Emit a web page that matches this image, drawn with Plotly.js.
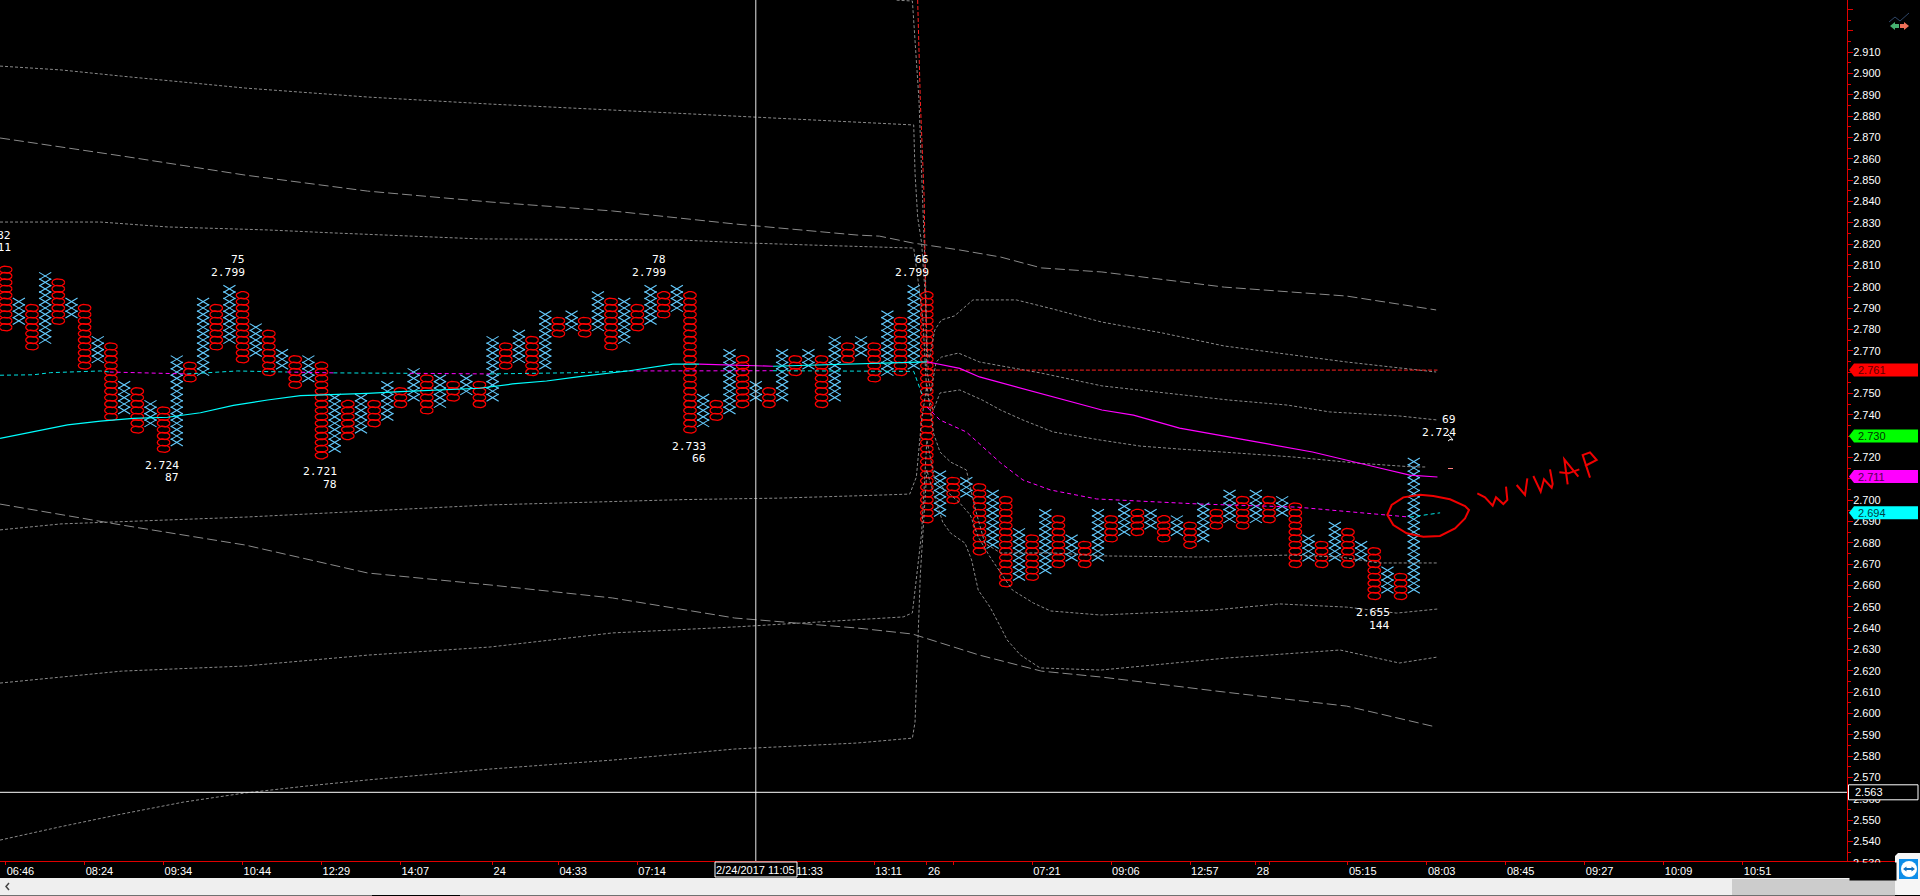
<!DOCTYPE html>
<html><head><meta charset="utf-8">
<script src="https://cdn.plot.ly/plotly-3.0.1.min.js"></script>
<style>html,body{margin:0;padding:0;background:#000;overflow:hidden}#c{width:1920px;height:896px}</style>
</head><body><div id="c"></div>
<script>
// Point & figure columns (box size 0.003), starting at column 0
const colKind = "OXOXOXOXOXOXOXOXOXOXOXOXOXOXOXOXOXOXOXOXOXOXOXOXOXOXOXOXOXOXOXOXOXOXOXOXOXOXOXOXOXOXOXOXOXOXOXOXOXOXOXOXOXOX".split("");
const colHigh = [2.808,2.793,2.790,2.805,2.802,2.793,2.790,2.775,2.772,2.754,2.751,2.745,2.742,2.766,2.763,2.793,2.790,2.799,2.796,2.781,2.778,2.769,2.766,2.766,2.763,2.748,2.745,2.748,2.745,2.754,2.751,2.760,2.757,2.757,2.754,2.757,2.754,2.775,2.772,2.778,2.775,2.787,2.784,2.787,2.784,2.796,2.793,2.793,2.790,2.799,2.796,2.799,2.796,2.748,2.745,2.769,2.766,2.754,2.751,2.769,2.766,2.769,2.766,2.775,2.772,2.775,2.772,2.787,2.784,2.799,2.796,2.712,2.709,2.709,2.706,2.703,2.700,2.685,2.682,2.694,2.691,2.682,2.679,2.694,2.691,2.697,2.694,2.694,2.691,2.691,2.688,2.697,2.694,2.703,2.700,2.703,2.700,2.700,2.697,2.682,2.679,2.688,2.685,2.679,2.676,2.667,2.664,2.718,2.715,2.727];
const colLow  = [2.781,2.784,2.772,2.775,2.784,2.787,2.763,2.766,2.739,2.742,2.733,2.736,2.724,2.727,2.757,2.760,2.772,2.775,2.766,2.769,2.760,2.763,2.754,2.757,2.721,2.724,2.730,2.733,2.736,2.739,2.745,2.748,2.742,2.745,2.748,2.751,2.745,2.748,2.763,2.766,2.760,2.763,2.778,2.781,2.778,2.781,2.772,2.775,2.781,2.784,2.787,2.790,2.733,2.736,2.739,2.742,2.745,2.748,2.745,2.748,2.760,2.763,2.745,2.748,2.766,2.769,2.757,2.760,2.760,2.763,2.691,2.694,2.700,2.703,2.676,2.679,2.661,2.664,2.664,2.667,2.670,2.673,2.670,2.673,2.682,2.685,2.685,2.688,2.682,2.685,2.679,2.682,2.688,2.691,2.688,2.691,2.691,2.694,2.670,2.673,2.670,2.673,2.670,2.673,2.655,2.658,2.655,2.658,2.703,2.706];

// Standard-deviation bands
const upper3Col = [67.7,68.9,69.4,69.7,69.9,70,70.2,70.6,71.1,72.1,73.5,76.8,79.6,83.3,87.9,92.6,101.9,108.7];
const upper3Val = [2.9343,2.9339,2.8875,2.8406,2.8031,2.7703,2.7666,2.7797,2.7844,2.7863,2.7938,2.7938,2.7895,2.7834,2.7783,2.7722,2.7647,2.7600];
const upper2Col = [-0.43,4.2,8.8,13.5,18.2,27.5,36.8,46.1,55.4,68,69,69.1,69.3,69.6,69.9,70,70.3,70.7,71.1,72.4,74,78.7,83.3,92.9,97.4,100.6,105.9,108.8];
const upper2Val = [2.9034,2.9016,2.8987,2.8959,2.8931,2.8889,2.8856,2.8828,2.8800,2.8763,2.8758,2.8533,2.8327,2.8205,2.7938,2.7609,2.7506,2.7647,2.7670,2.7689,2.7647,2.7595,2.7535,2.7469,2.7445,2.7413,2.7394,2.7375];
const upper1Col = [-0.43,7.2,12.3,19.9,24.9,36,51.2,56.3,61.3,69,69.3,69.7,70,70.5,71,72.5,74.2,75.6,77.3,79.6,83.2,86.2,89.2,92.5,97.8,102.7,107,108];
const upper1Val = [2.8303,2.8303,2.8280,2.8266,2.8252,2.8224,2.8219,2.8205,2.8195,2.8181,2.8045,2.7844,2.7492,2.7422,2.7502,2.7516,2.7469,2.7422,2.7375,2.7319,2.7281,2.7253,2.7239,2.7225,2.7202,2.7173,2.7155,2.7155];
const lower1Col = [-0.43,4.2,18.2,36.8,51.5,58.8,66.4,68.7,69.2,69.6,70,70.5,71,71.8,73,73.7,74.4,75.6,79.6,83.2,90.8,97.6,101.4,104.4,108.8];
const lower1Val = [2.6860,2.6888,2.6920,2.6977,2.7002,2.7009,2.7023,2.7028,2.7108,2.7375,2.7539,2.7314,2.7225,2.7178,2.7141,2.6953,2.6798,2.6752,2.6752,2.6738,2.6733,2.6742,2.6733,2.6705,2.6705];
const lower2Col = [-0.43,8.8,18.2,27.5,36.8,46.1,55.4,64.7,68.2,68.9,69.2,69.6,70,70.6,71.4,72.5,73.3,73.9,74.8,76.5,78.1,79.4,83.2,88.2,91.7,96.8,101.9,105.7,108.8];
const lower2Val = [2.6142,2.6198,2.6222,2.6273,2.6311,2.6377,2.6405,2.6438,2.6452,2.6471,2.6625,2.6845,2.7281,2.7094,2.7047,2.6986,2.6930,2.6827,2.6733,2.6578,2.6517,2.6480,2.6461,2.6475,2.6484,2.6513,2.6498,2.6470,2.6489];
const lower3Col = [-0.43,4.2,8.8,13.5,18.2,22.8,27.5,36.8,46.1,55.4,64.7,68.9,69.1,69.5,70,70.2,71.2,71.8,72.9,73.4,73.9,74.8,75.6,76.1,77.1,78.6,83.2,92.7,101.4,105.9,108.8];
const lower3Val = [2.5406,2.5469,2.5528,2.5584,2.5627,2.5659,2.5688,2.5739,2.5781,2.5833,2.5861,2.5884,2.5959,2.6648,2.7141,2.7094,2.6897,2.6845,2.6798,2.6719,2.6578,2.6498,2.6405,2.6344,2.6274,2.6213,2.6203,2.6259,2.6297,2.6236,2.6264];

// Long-dash weekly bands
const weekUpCol = [-0.43,4.2,8.8,18.2,27.5,36.8,46.1,55.4,64.7,66.4,68.9,72.5,75.6,78.7,83.3,92.6,101.9,108.7];
const weekUpVal = [2.8697,2.8655,2.8613,2.8523,2.8448,2.8397,2.8355,2.8294,2.8242,2.8237,2.8205,2.8172,2.8139,2.8088,2.8069,2.7998,2.7956,2.7891];
const weekDnCol = [-0.43,8.8,18.2,27.5,36.8,46.1,55.4,64.7,68.9,74,78.7,83.3,92.6,101.9,108.7];
const weekDnVal = [2.6981,2.6883,2.6789,2.6658,2.6602,2.6541,2.6447,2.6400,2.6372,2.6273,2.6198,2.6170,2.6100,2.6034,2.5936];

// Dashed average, cyan and magenta stretches
const dashCyanCol = [-0.43,2.1,3.4,7.2,7.9,null,13.8,17.6,21.4,null,24.9,30.7,null,36.8,43.6,47.4,null,58.3,69,69.7,null,106.7,109];
const dashCyanVal = [2.7585,2.7587,2.7597,2.7605,2.7600,null,2.7591,2.7605,2.7600,null,2.7596,2.7594,null,2.7591,2.7597,2.7605,null,2.7606,2.7603,2.7483,null,2.6920,2.6940];
const dashMagCol = [7.9,13.8,null,21.4,24.9,null,30.7,36.8,null,47.4,58.3,null,70,70.8,71,73,75.6,77.3,79.4,82.9,90.8,98.1,106.7];
const dashMagVal = [2.7600,2.7591,null,2.7600,2.7596,null,2.7594,2.7591,null,2.7605,2.7606,null,2.7436,2.7384,2.7375,2.7319,2.7174,2.7094,2.7047,2.7005,2.6981,2.6967,2.6920];

// Solid VWAP, cyan and magenta stretches
const vwapCyanCol = [-0.43,2.1,4.7,7.2,9.7,12.3,14.8,17.3,19.9,22.4,24.9,27.5,30,32.5,36,38.5,41.1,43.6,47.4,50.7,52.7,null,58.3,69,70];
const vwapCyanVal = [2.7289,2.7320,2.7352,2.7370,2.7383,2.7388,2.7409,2.7444,2.7469,2.7489,2.7494,2.7500,2.7508,2.7516,2.7524,2.7544,2.7558,2.7578,2.7606,2.7637,2.7637,null,2.7627,2.7647,2.7648];
const vwapMagCol = [52.7,58.3,null,70,72.5,74,78.7,83.3,85.7,89.2,94.3,99.3,104.4,106.7,108.8];
const vwapMagVal = [2.7637,2.7627,null,2.7648,2.7617,2.7577,2.7497,2.7422,2.7398,2.7337,2.7281,2.7225,2.7150,2.7117,2.7108];

// Red dashed line
const redCol = [69.3,69.5,69.8,69.9,70.1,108.8];
const redVal = [2.9344,2.8875,2.8406,2.7938,2.7609,2.7609];

// Swing labels (the first belongs to a column just left of the window)
const swingCol   = [-1,17,12,24,49,52,69,104,109];
const swingPrice = ["2.811","2.799","2.724","2.721","2.799","2.733","2.799","2.655","2.724"];
const swingCount = ["82","75","87","78","78","66","66","144","69"];
const swingIsTop = [true,true,false,false,true,false,true,false,true];

// Axes
const xTickVals = [0,6,12,18,24,30,37,42,48,54,60,66,70,72,78,84,90,95,96,102,108,114,120,126,132];
const xTickText = ["06:46","08:24","09:34","10:44","12:29","14:07","24","04:33","07:14","","11:33","13:11","26","","07:21","09:06","12:57","28","","05:15","08:03","08:45","09:27","10:09","10:51"];
const yMajor = [2.54,2.55,2.56,2.57,2.58,2.59,2.60,2.61,2.62,2.63,2.64,2.65,2.66,2.67,2.68,2.69,2.70,2.71,2.72,2.73,2.74,2.75,2.76,2.77,2.78,2.79,2.80,2.81,2.82,2.83,2.84,2.85,2.86,2.87,2.88,2.89,2.90,2.91,2.92,2.93];
const yBadgeHidden = [2.71,2.73,2.76];
const yLabels = yMajor.map(v => (v > 2.915 || yBadgeHidden.includes(v)) ? "" : v.toFixed(3));
const yMinor = yMajor.map(v => v - 0.005).concat([2.535]).filter(v => v > 2.531);

// Price badges
const badgeVal   = [2.761,2.730,2.711,2.694];
const badgeFill  = ["#ff0000","#00ff00","#ff00ff","#00ffff"];
const badgeInk   = ["#5a0000","#003000","#500050","#004040"];
const crossCol = 57, crossPrice = 2.563, crossDate = "2/24/2017 11:05";

// --- glyphs
const PW = 1847, PH = 861;
const fx = x => x / PW, fy = y => 1 - y / PH;
const boxH = 0.0017;
const xsX = [], xsY = [], osX = [], osY = [];
colKind.forEach((k, i) => {
  const n = Math.round((colHigh[i] - colLow[i]) / 0.003);
  for (let j = 0; j <= n; j++) {
    const v = colLow[i] + j * 0.003;
    if (k === "X") {
      xsX.push(i - 0.46, i + 0.46, null, i - 0.46, i + 0.46, null);
      xsY.push(v - boxH, v + boxH, null, v + boxH, v - boxH, null);
    } else {
      for (let a = 0; a <= 14; a++) {
        const t = a / 14 * 2 * Math.PI;
        osX.push(i + 0.48 * Math.cos(t));
        osY.push(v + boxH * Math.sin(t));
      }
      osX.push(null); osY.push(null);
    }
  }
});
const ln = (x, y, color, dash, width) => ({type: "scatter", mode: "lines", x, y, hoverinfo: "skip", connectgaps: false,
  line: {color, dash: dash || "solid", width: width || 1, shape: "linear"}});
const G = "#8a8a8a", DOT = "3px,2px", LONG = "10px,4px";
const traces = [
  ln(osX, osY, "#ff0000", null, 1.25),
  ln(xsX, xsY, "#66ccff", null, 1.1),
  ln(upper3Col, upper3Val, G, DOT), ln(upper2Col, upper2Val, G, DOT), ln(upper1Col, upper1Val, G, DOT),
  ln(lower1Col, lower1Val, G, DOT), ln(lower2Col, lower2Val, G, DOT), ln(lower3Col, lower3Val, G, DOT),
  ln(weekUpCol, weekUpVal, G, LONG), ln(weekDnCol, weekDnVal, G, LONG),
  ln(dashCyanCol, dashCyanVal, "#00e5e5", "4px,3px"), ln(dashMagCol, dashMagVal, "#ff00ff", "4px,3px"),
  ln(redCol, redVal, "#ff2020", "4px,2px"),
  ln(vwapCyanCol, vwapCyanVal, "#00ffff", null, 1.2), ln(vwapMagCol, vwapMagVal, "#ff00ff", null, 1.2)
];

// --- annotations
const mono = {family: "'DejaVu Sans Mono',monospace", size: 11.3, color: "#ffffff"};
const sans = {family: "'Liberation Sans',Arial,sans-serif", size: 11, color: "#ffffff"};
const anns = [];
swingCol.forEach((c, i) => {
  const v = parseFloat(swingPrice[i]), s = swingIsTop[i] ? 1 : -1;
  const base = c < 0
    ? {xref: "paper", x: 0, xshift: 13, yref: "y", y: v, xanchor: "right", yanchor: "middle", showarrow: false, font: mono}
    : {xref: "x", x: c, xshift: 17.5, yref: "y", y: v, xanchor: "right", yanchor: "middle", showarrow: false, font: mono};
  const lift = c < 0 ? -1 : 0;
  anns.push({...base, text: swingPrice[i], yshift: s * 16.7 + lift});
  anns.push({...base, text: swingCount[i], yshift: s * 29 + lift});
});
// half-hidden bottom tick label
anns.push({xref: "paper", yref: "paper", x: 1, xshift: 4, y: fy(863), xanchor: "left", yanchor: "middle", showarrow: false, text: "2.530", font: sans});
anns.push({xref: "paper", yref: "paper", x: 1, y: fy(862), xanchor: "left", yanchor: "top", xshift: 2, showarrow: false, text: " ", width: 44, height: 15, bgcolor: "#000000", font: sans});
badgeVal.forEach((v, i) => anns.push({xref: "paper", yref: "y", x: 1, y: v, xshift: 9, xanchor: "left", yanchor: "middle", showarrow: false, text: v.toFixed(3), font: {...sans, color: badgeInk[i]}}));
anns.push({xref: "paper", yref: "y", x: 1, y: crossPrice, xshift: 6, xanchor: "left", yanchor: "middle", showarrow: false, text: crossPrice.toFixed(3), font: sans});
anns.push({xref: "x", yref: "paper", x: crossCol, y: fy(870), xanchor: "center", yanchor: "middle", showarrow: false, text: crossDate, font: sans});

// --- shapes
const poly = (pts, color, width, fill, close) => ({type: "path", xref: "paper", yref: "paper", layer: "above",
  path: "M " + pts.map(p => fx(p[0]) + " " + fy(p[1])).join(" L ") + (close ? " Z" : ""),
  line: {color: color || "rgba(0,0,0,0)", width: width === undefined ? 1 : width}, fillcolor: fill || "rgba(0,0,0,0)"});
const rect = (x0, y0, x1, y1, fill, line) => ({type: "rect", xref: "paper", yref: "paper", layer: "above",
  x0: fx(x0), x1: fx(x1), y0: fy(y0), y1: fy(y1), fillcolor: fill, line: {color: line || fill, width: line ? 1 : 0}});
const shapes = [];
// crosshair
shapes.push({type: "line", xref: "x", yref: "paper", x0: crossCol, x1: crossCol, y0: 0, y1: 1, line: {color: "#e8e8e8", width: 1}, layer: "above"});
shapes.push({type: "line", xref: "paper", yref: "y", x0: 0, x1: 1, y0: crossPrice, y1: crossPrice, line: {color: "#ffffff", width: 1}, layer: "above"});
// badges
badgeVal.forEach((v, i) => shapes.push({type: "path", layer: "above", xref: "paper", yref: "y", xsizemode: "pixel", ysizemode: "pixel", xanchor: 1, yanchor: v,
  path: "M 2 0 L 7 6.5 L 71 6.5 L 71 -6.5 L 7 -6.5 Z", fillcolor: badgeFill[i], line: {width: 0}}));
shapes.push({type: "path", layer: "above", xref: "paper", yref: "y", xsizemode: "pixel", ysizemode: "pixel", xanchor: 1, yanchor: crossPrice,
  path: "M 1.5 7.5 L 71 7.5 L 71 -7.5 L 1.5 -7.5 Z", fillcolor: "#000000", line: {color: "#ffffff", width: 1}});
shapes.push(rect(715, 862, 797, 877, "#000000", "#ffffff"));
// axis extension, scrollbar and window furniture
shapes.push(rect(1847, 861, 1895, 862, "#e00000"));
shapes.push(rect(0, 878, 1920, 895, "#efefef"));
shapes.push(rect(1732, 879, 1895, 895, "#cccccc"));
shapes.push(rect(0, 895, 372, 896, "#707070"));
shapes.push(rect(460, 895, 1895, 896, "#707070"));
shapes.push(poly([[9, 883], [6, 886.5], [9, 890]], "#444444", 1.5));
// hand drawn circle and caption
const ovalPts = [[180,284],[130,292],[95,315],[82,345],[100,375],[140,400],[190,410],[240,408],[285,385],[315,355],[327,330],[315,318],[270,298],[220,288],[180,284]];
const inkPts = [
  [[22,160],[45,172],[68,197],[78,172],[100,192],[112,180],[108,140]],
  [[140,135],[165,165],[172,115]],
  [[190,108],[212,155],[222,118],[245,143],[248,132],[240,88]],
  [[293,133],[283,58],[325,110]],
  [[268,97],[295,100],[328,88]],
  [[360,113],[338,45],[360,37],[380,60],[345,78]]
];
const toPx = p => [1360 + p[0] / 3, 400 + p[1] / 3];
const inkPx = p => [1470 + p[0] / 3, 440 + p[1] / 3];
shapes.push(poly(ovalPts.map(toPx), "#f00000", 2));
inkPts.forEach(s => shapes.push(poly(s.map(inkPx), "#f00000", 2)));
// stray ticks and cursor
shapes.push(rect(1448, 468, 1453, 469, "#ff8080"));
shapes.push(poly([[1448,434],[1453,440],[1450,439.5],[1448,441]], "#ffffff", 1));
// corner icon
shapes.push(poly([[1889,22],[1895,17],[1900,21],[1909,13]], "#2e4668", 1));
shapes.push(poly([[1890,26],[1895,22],[1895,24],[1899,24],[1899,28],[1895,28],[1895,30]], null, 0, "#46b070", true));
shapes.push(poly([[1909,26],[1904,22],[1904,24],[1900,24],[1900,28],[1904,28],[1904,30]], null, 0, "#ef7058", true));
// remote control badge
shapes.push(poly([[1920,853],[1898,853],[1895,856],[1895,892],[1898,895],[1920,895]], null, 0, "#f6f6f6", true));
shapes.push(rect(1899, 859, 1918, 879, "#0e8ee9"));
shapes.push({type: "circle", xref: "paper", yref: "paper", layer: "above", x0: fx(1901), x1: fx(1917), y0: fy(877), y1: fy(861), fillcolor: "#ffffff", line: {width: 0}});
shapes.push(poly([[1903,869],[1906.5,866.5],[1906.5,868],[1911.5,868],[1911.5,866.5],[1915,869],[1911.5,871.5],[1911.5,870],[1906.5,870],[1906.5,871.5]], null, 0, "#0e6fc0", true));

const layout = {
  width: 1920, height: 896, autosize: false,
  margin: {l: 0, r: 73, t: 0, b: 35, pad: 0},
  paper_bgcolor: "#000000", plot_bgcolor: "#000000",
  showlegend: false, hovermode: false,
  xaxis: {range: [-0.433, 139.92], fixedrange: true, showgrid: false, zeroline: false,
    showline: true, linecolor: "#e00000", linewidth: 1,
    tickmode: "array", tickvals: xTickVals, ticktext: xTickText, tickangle: 0,
    ticks: "outside", ticklen: 3, tickcolor: "#e00000", tickwidth: 1,
    ticklabelposition: "outside right", ticklabeloverflow: "allow",
    tickfont: sans},
  yaxis: {range: [2.5308, 2.93438], side: "right", fixedrange: true, showgrid: false, zeroline: false,
    showline: true, linecolor: "#e00000", linewidth: 1,
    tickmode: "array", tickvals: yMajor, ticktext: yLabels,
    ticks: "outside", ticklen: 5, tickcolor: "#e00000", tickwidth: 1,
    ticklabelstandoff: -2,
    minor: {tickmode: "array", tickvals: yMinor, ticks: "outside", ticklen: 3, tickcolor: "#e00000", tickwidth: 1, showgrid: false},
    ticklabeloverflow: "allow", tickfont: sans},
  annotations: anns, shapes: shapes
};
Plotly.newPlot("c", traces, layout, {staticPlot: true, displayModeBar: false, responsive: false});
</script></body></html>
